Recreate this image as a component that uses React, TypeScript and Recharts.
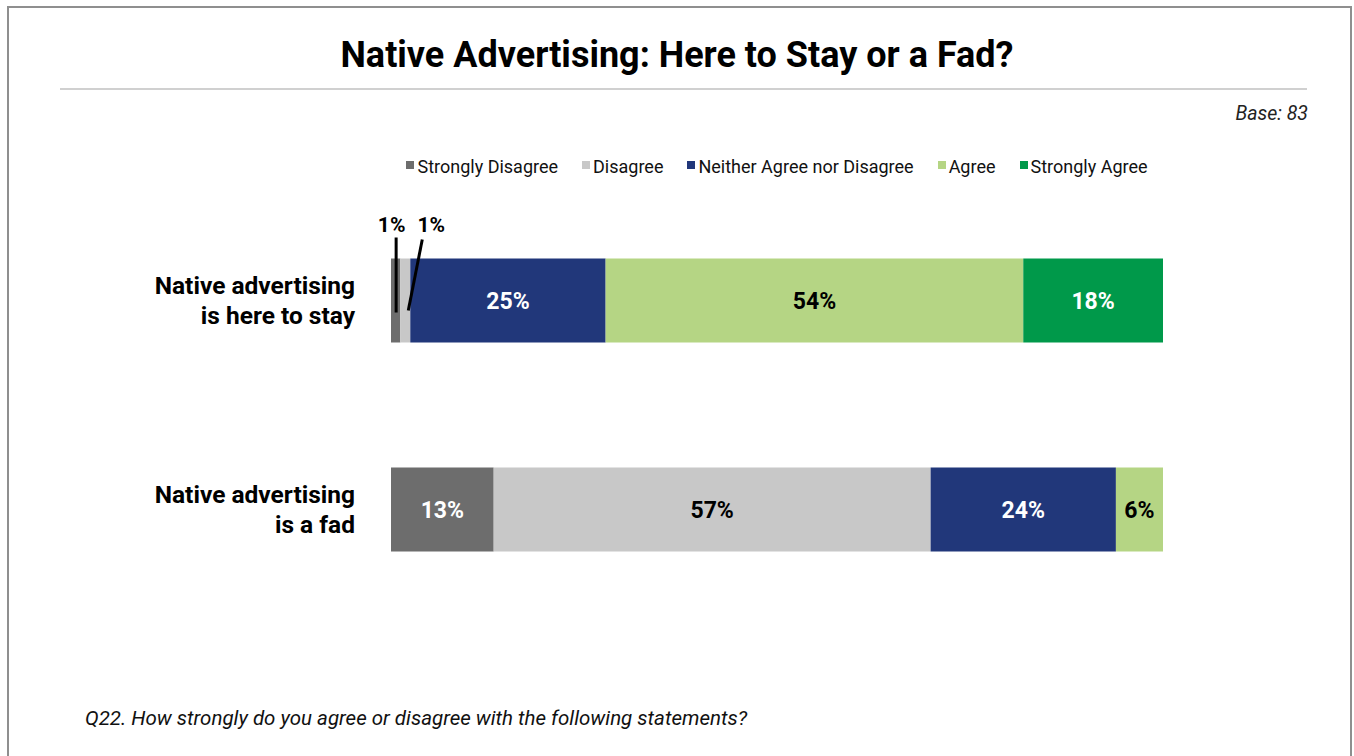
import React from 'react';
import { BarChart, Bar, XAxis, YAxis, LabelList } from 'recharts';

const categories = ['Native advertising is here to stay', 'Native advertising is a fad'];
const categoryLines = [
  ['Native advertising', 'is here to stay'],
  ['Native advertising', 'is a fad'],
];
const seriesNames = ['Strongly Disagree', 'Disagree', 'Neither Agree nor Disagree', 'Agree', 'Strongly Agree'];
const seriesKeys = ['sd', 'd', 'n', 'a', 'sa'];
const seriesColors = ['#6d6d6d', '#c8c8c8', '#21377a', '#b5d584', '#00994a'];
const labelColors = ['#ffffff', '#000000', '#ffffff', '#000000', '#ffffff'];

const stronglyDisagree = [1.2, 13.3];
const disagree = [1.3, 56.6];
const neither = [25.3, 24.0];
const agree = [54.1, 6.1];
const stronglyAgree = [18.1, 0];

const seriesValues = [stronglyDisagree, disagree, neither, agree, stronglyAgree];

const data = categories.map((name, i) => {
  const row: any = { name, idx: i };
  seriesKeys.forEach((k, s) => {
    row[k] = seriesValues[s][i];
  });
  return row;
});

const FONT = 'Roboto, "Liberation Sans", Arial, sans-serif';

const CategoryTick = (props: any) => {
  const { y, payload } = props;
  const lines = categoryLines[payload.index] || [String(payload.value)];
  return (
    <text x={355} y={y} textAnchor="end" fontFamily={FONT} fontWeight={700} fontSize={24.5} fill="#000">
      <tspan x={355} dy={-6}>{lines[0]}</tspan>
      <tspan x={355} dy={30}>{lines[1]}</tspan>
    </text>
  );
};

const makeLabel = (s: number) => (props: any) => {
  const { x, y, width, height, value } = props;
  if (!value) return null;
  const txt = `${Math.round(Number(value))}%`;
  const cx = Number(x) + Number(width) / 2;
  const cy = Number(y) + Number(height) / 2;
  if (Number(value) < 3) {
    const by = Number(y);
    if (s === 0) {
      return (
        <g>
          <text x={cx - 4} y={by - 27} textAnchor="middle" fontFamily={FONT} fontWeight={700} fontSize={21} fill="#000">{txt}</text>
          <line x1={cx + 0.5} y1={by - 21} x2={cx + 0.5} y2={by + 54} stroke="#000" strokeWidth={3} />
        </g>
      );
    }
    return (
      <g>
        <text x={cx + 26} y={by - 27} textAnchor="middle" fontFamily={FONT} fontWeight={700} fontSize={21} fill="#000">{txt}</text>
        <line x1={cx + 17} y1={by - 19} x2={cx + 3} y2={by + 52} stroke="#000" strokeWidth={3} />
      </g>
    );
  }
  return (
    <text x={cx} y={cy + 1} textAnchor="middle" dominantBaseline="central" fontFamily={FONT} fontWeight={700} fontSize={23} fill={labelColors[s]}>
      {txt}
    </text>
  );
};

export default function App() {
  return (
    <div style={{ position: 'absolute', left: 0, top: 0, width: 1354, height: 756, background: '#fff', fontFamily: FONT, overflow: 'hidden' }}>
      <div style={{ position: 'absolute', left: 7, top: 6, width: 1341, height: 760, borderLeft: '2px solid #8f8f8f', borderTop: '2px solid #8f8f8f', borderRight: '2px solid #8f8f8f' }} />
      <div style={{ position: 'absolute', left: 0, width: 1354, top: 33, textAlign: 'center', fontSize: 36, fontWeight: 700, color: '#000', lineHeight: '44px' }}>
        Native Advertising: Here to Stay or a Fad?
      </div>
      <div style={{ position: 'absolute', left: 60, top: 88, width: 1247, height: 0, borderTop: '2px solid #d0d0d0' }} />
      <div style={{ position: 'absolute', right: 46, top: 101, fontSize: 19.5, fontStyle: 'italic', color: '#222', lineHeight: '26px' }}>Base: 83</div>
      <div style={{ position: 'absolute', left: 391, width: 772, top: 155, display: 'flex', justifyContent: 'center', fontSize: 18, color: '#111', lineHeight: '24px' }}>
        {seriesNames.map((n, i) => (
          <div key={n} style={{ display: 'flex', alignItems: 'flex-start', marginRight: i < seriesNames.length - 1 ? 24 : 0 }}>
            <span style={{ display: 'inline-block', width: 8, height: 8, background: seriesColors[i], marginTop: 6, marginRight: 3 }} />
            <span>{n}</span>
          </div>
        ))}
      </div>
      <div style={{ position: 'absolute', left: 85, top: 705, fontSize: 20.5, fontStyle: 'italic', color: '#111', lineHeight: '26px' }}>
        Q22. How strongly do you agree or disagree with the following statements?
      </div>
      <div style={{ position: 'absolute', left: 0, top: 0 }}>
        <BarChart
          layout="vertical"
          width={1354}
          height={756}
          data={data}
          margin={{ top: 195.5, right: 191, bottom: 142.5, left: 0 }}
        >
          <XAxis type="number" domain={[0, 100]} hide />
          <YAxis type="category" dataKey="name" width={391} axisLine={false} tickLine={false} tick={CategoryTick} interval={0} />
          {seriesKeys.map((k, s) => (
            <Bar key={k} dataKey={k} name={seriesNames[s]} stackId="a" fill={seriesColors[s]} barSize={84} isAnimationActive={false}>
              <LabelList dataKey={k} content={makeLabel(s)} />
            </Bar>
          ))}
        </BarChart>
      </div>
    </div>
  );
}
